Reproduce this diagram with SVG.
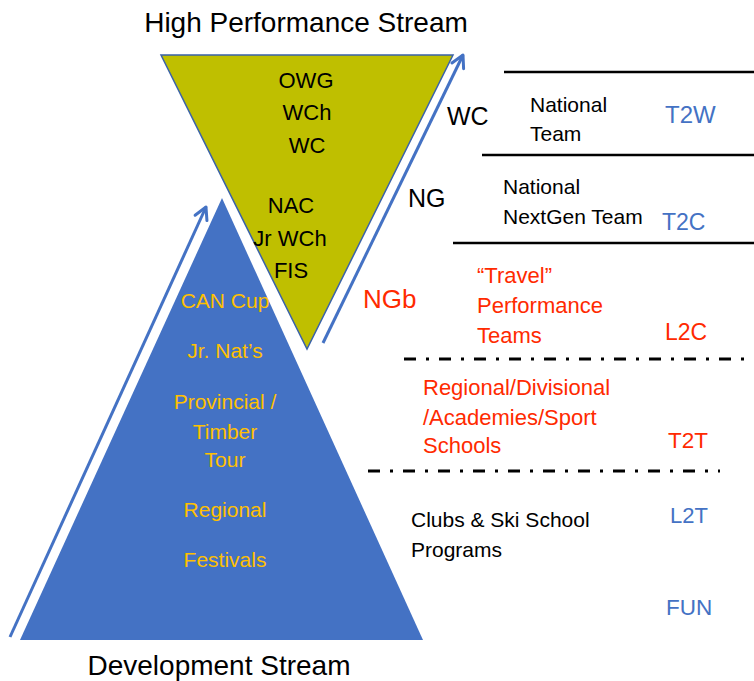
<svg xmlns="http://www.w3.org/2000/svg" width="754" height="681" viewBox="0 0 754 681">
<style>
text{font-family:"Liberation Sans",Arial,sans-serif}
.title{font-size:28px;fill:#000;text-anchor:middle}
.blk{fill:#000}
.red{fill:#FF2A00}
.blu{fill:#4472C4}
.gold{fill:#FFC000;font-size:21px;text-anchor:middle}
.inv{font-size:22px;fill:#000;text-anchor:middle}
.solid{stroke:#000;stroke-width:2.5;fill:none}
.dd{stroke:#000;stroke-width:3.2;fill:none;stroke-dasharray:12 10 3 10}
.arrow{stroke:#4472C4;stroke-width:3;fill:none;marker-end:url(#open)}
</style>
<defs>
<marker id="open" markerUnits="userSpaceOnUse" markerWidth="20" markerHeight="20" viewBox="-16 -10 20 20" refX="0" refY="0" orient="auto">
<path d="M-12,-6.5 L0,0 L-12,6.5" stroke="#4472C4" stroke-width="3" fill="none" stroke-linecap="round" stroke-linejoin="round"/>
</marker>
</defs>
<rect width="754" height="681" fill="#fff"/>

<g id="high-performance-triangle">
<polygon points="161,55 453,55 307,349" fill="#BFBF00" stroke="#3A62A8" stroke-width="1.5"/>
<text class="inv" x="306" y="88">OWG</text>
<text class="inv" x="307" y="120">WCh</text>
<text class="inv" x="307" y="153">WC</text>
<text class="inv" x="291" y="213">NAC</text>
<text class="inv" x="290" y="246">Jr WCh</text>
<text class="inv" x="291" y="278">FIS</text>
</g>

<g id="development-triangle">
<polygon points="222,198 423,640 20,640" fill="#4472C4"/>
<text class="gold" x="225" y="308">CAN Cup</text>
<text class="gold" x="225" y="358">Jr. Nat’s</text>
<text class="gold" x="225" y="409">Provincial /</text>
<text class="gold" x="225" y="439">Timber</text>
<text class="gold" x="225" y="467">Tour</text>
<text class="gold" x="225" y="517">Regional</text>
<text class="gold" x="225" y="567">Festivals</text>
</g>

<g id="titles">
<text class="title" x="306" y="32">High Performance Stream</text>
<text class="title" x="219" y="675">Development Stream</text>
</g>

<g id="connectors">
<line class="arrow" x1="10" y1="637" x2="206" y2="207"/>
<line class="arrow" x1="323" y1="343" x2="463" y2="55"/>
<line class="solid" x1="504" y1="72" x2="754" y2="72"/>
<line class="solid" x1="482" y1="155" x2="754" y2="155"/>
<line class="solid" x1="453" y1="243" x2="754" y2="243"/>
<line class="dd" x1="404" y1="359" x2="754" y2="359"/>
<line class="dd" x1="368" y1="471" x2="720" y2="471"/>
</g>

<g id="stream-labels">
<text class="blk" x="447" y="125" font-size="25">WC</text>
<text class="blk" x="408" y="207" font-size="25">NG</text>
<text class="red" x="363" y="308" font-size="26">NGb</text>
</g>

<g id="level-national-team">
<text class="blk" x="530" y="112" font-size="21">National</text>
<text class="blk" x="530" y="141" font-size="21">Team</text>
<text class="blu" x="665" y="123" font-size="24">T2W</text>
</g>

<g id="level-nextgen">
<text class="blk" x="503" y="194" font-size="21">National</text>
<text class="blk" x="503" y="224" font-size="21">NextGen Team</text>
<text class="blu" x="662" y="230" font-size="23">T2C</text>
</g>

<g id="level-travel">
<text class="red" x="477" y="283" font-size="22">“Travel”</text>
<text class="red" x="477" y="313" font-size="22">Performance</text>
<text class="red" x="477" y="343" font-size="22">Teams</text>
<text class="red" x="665" y="340" font-size="23">L2C</text>
</g>

<g id="level-regional">
<text class="red" x="423" y="395" font-size="22">Regional/Divisional</text>
<text class="red" x="423" y="425" font-size="22">/Academies/Sport</text>
<text class="red" x="423" y="453" font-size="22">Schools</text>
<text class="red" x="668" y="448" font-size="22.5">T2T</text>
</g>

<g id="level-clubs">
<text class="blk" x="411" y="527" font-size="21">Clubs &amp; Ski School</text>
<text class="blk" x="411" y="557" font-size="21">Programs</text>
<text class="blu" x="670" y="523" font-size="22">L2T</text>
<text class="blu" x="666" y="615" font-size="22.5">FUN</text>
</g>
</svg>
